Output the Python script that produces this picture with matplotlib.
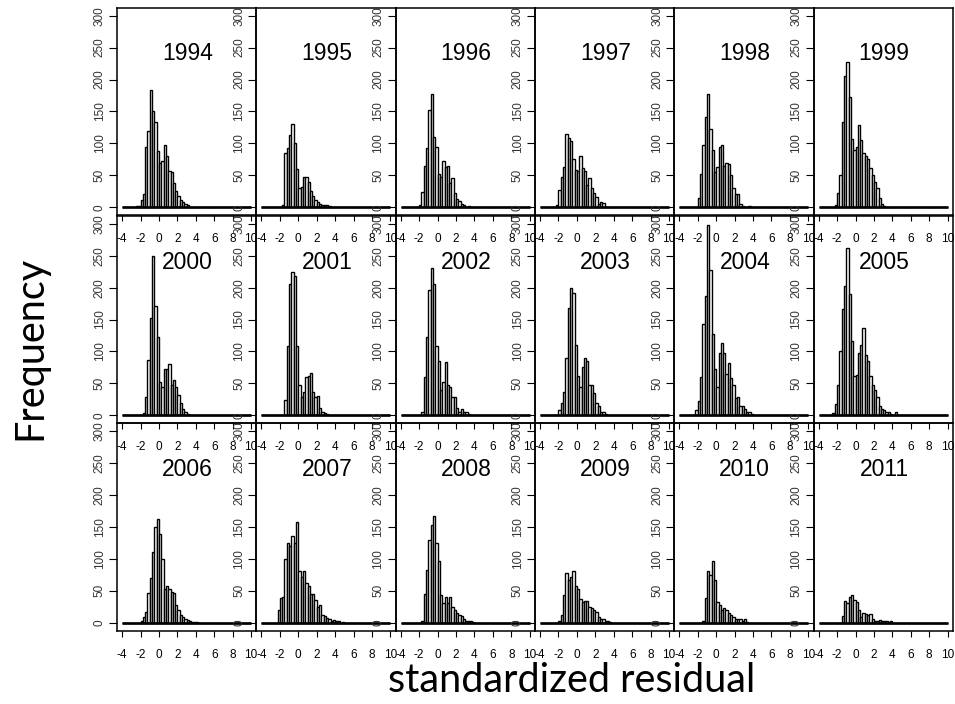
import numpy as np
import matplotlib
matplotlib.use("Agg")
import matplotlib.pyplot as plt

# histogram bins: 0.25 wide over -4..10, listed counts start at -2.5
BIN_WIDTH = 0.25
X_RANGE = (-4, 10)
FIRST_BIN = -2.5

years = [1994, 1995, 1996, 1997, 1998, 1999,
         2000, 2001, 2002, 2003, 2004, 2005,
         2006, 2007, 2008, 2009, 2010, 2011]

c1994 = [2, 2, 11, 20, 95, 120, 183, 150, 133, 88, 70, 73, 97, 80, 57, 55, 38, 25, 17, 12, 8, 5, 3, 1, 1, 1]
c1995 = [0, 0, 0, 3, 85, 93, 113, 130, 100, 60, 30, 32, 48, 48, 40, 25, 17, 12, 8, 5, 3, 4, 3, 2, 1, 1]
c1996 = [0, 0, 4, 24, 64, 93, 152, 178, 110, 95, 52, 48, 73, 63, 65, 38, 46, 22, 13, 9, 5, 3, 0, 2]
c1997 = [0, 4, 27, 48, 63, 115, 108, 103, 75, 58, 57, 81, 62, 57, 35, 45, 30, 22, 16, 5, 8, 6]
c1998 = [0, 0, 14, 52, 97, 142, 178, 123, 90, 55, 63, 95, 97, 65, 70, 68, 50, 30, 20, 20, 5, 2, 0, 0, 2]
c1999 = [0, 3, 22, 50, 133, 205, 228, 173, 107, 90, 95, 128, 105, 85, 80, 75, 62, 50, 40, 30, 15, 5, 2]
c2000 = [0, 0, 0, 4, 28, 87, 152, 250, 172, 122, 52, 45, 72, 72, 80, 48, 55, 45, 32, 20, 10, 5, 2, 1]
c2001 = [0, 0, 0, 0, 24, 108, 206, 224, 218, 108, 48, 28, 37, 60, 62, 67, 37, 28, 30, 12, 5, 3, 2, 1, 1]
c2002 = [0, 0, 0, 5, 60, 123, 196, 230, 205, 108, 85, 40, 52, 83, 48, 45, 28, 28, 12, 5, 10, 5, 5, 2]
c2003 = [0, 0, 8, 20, 37, 90, 168, 200, 192, 110, 62, 45, 75, 90, 85, 48, 48, 35, 20, 15, 5, 5, 2]
c2004 = [0, 8, 23, 60, 143, 187, 298, 228, 128, 72, 45, 97, 113, 97, 65, 82, 58, 48, 27, 28, 15, 15, 10, 5, 5, 2, 1]
c2005 = [3, 17, 47, 100, 167, 202, 262, 190, 117, 62, 63, 97, 110, 136, 95, 85, 62, 48, 40, 28, 15, 10, 8, 5, 5, 2, 0, 5]
c2006 = [0, 0, 3, 8, 17, 47, 70, 110, 150, 162, 138, 100, 53, 57, 53, 48, 47, 28, 20, 12, 8, 5, 4, 2, 1, 1, 1]
c2007 = [0, 20, 38, 40, 100, 125, 120, 135, 125, 158, 80, 72, 80, 62, 57, 45, 45, 35, 25, 27, 12, 10, 7, 5, 3, 4, 2, 2, 0, 1]
c2008 = [0, 0, 0, 3, 45, 83, 130, 152, 167, 125, 97, 43, 30, 40, 30, 40, 25, 20, 15, 12, 10, 5, 3, 2, 2, 1]
c2009 = [0, 0, 3, 12, 43, 78, 67, 72, 80, 57, 52, 37, 32, 33, 34, 25, 23, 20, 17, 8, 5, 5, 3, 2, 1]
c2010 = [0, 0, 0, 0, 3, 38, 80, 75, 97, 67, 32, 28, 20, 22, 20, 15, 12, 8, 6, 5, 5, 2, 5, 1]
c2011 = [0, 0, 0, 0, 10, 33, 30, 40, 43, 35, 32, 20, 8, 15, 13, 12, 13, 5, 2, 3, 4, 2, 2, 3, 1, 2]

counts = [c1994, c1995, c1996, c1997, c1998, c1999,
          c2000, c2001, c2002, c2003, c2004, c2005,
          c2006, c2007, c2008, c2009, c2010, c2011]

x_ticks = [-4, -2, 0, 2, 4, 6, 8, 10]
y_ticks = [0, 50, 100, 150, 200, 250, 300]

W, H = 955, 704
fig = plt.figure(figsize=(W / 100, H / 100), dpi=100)

edges = np.arange(X_RANGE[0], X_RANGE[1] + BIN_WIDTH / 2, BIN_WIDTH)
offset = int(round((FIRST_BIN - X_RANGE[0]) / BIN_WIDTH))

col_left = 117.0
col_w = 139.3
row_top = [7.7, 215.8, 423.0]
row_h = 207.5

for i, (yr, cnt) in enumerate(zip(years, counts)):
    r, c = divmod(i, 6)
    left = (col_left + c * col_w) / W
    bottom = 1 - (row_top[r] + row_h) / H
    ax = fig.add_axes([left, bottom, col_w / W, row_h / H])
    ax.patch.set_alpha(0)

    full = np.zeros(len(edges) - 1)
    full[offset:offset + len(cnt)] = cnt
    ax.bar(edges[:-1], full, width=BIN_WIDTH, align="edge",
           color="white", edgecolor="black", linewidth=1.0)
    ax.hlines(0, edges[0], edges[-1], color="black", lw=1.9)

    ax.set_xlim(-4.56, 10.56)
    ax.set_ylim(-12.5, 312.5)
    ax.set_xticks(x_ticks)
    ax.set_xticklabels([str(t) for t in x_ticks], family="Liberation Sans")
    ax.set_yticks(y_ticks)
    ax.set_yticklabels([str(t) for t in y_ticks], rotation=90, va="center",
                       family="Liberation Sans")
    ax.tick_params(axis="x", length=4.5, width=0.8, pad=8.5, labelsize=8.5)
    ax.tick_params(axis="y", length=6, width=0.8, pad=2, labelsize=8.5,
                   labelcolor="#333333")
    for s in ax.spines.values():
        s.set_linewidth(1.1)

    ax.text(3.1, 240, str(yr), ha="center", va="center", fontsize=16.5,
            family="Liberation Sans")

fig.text(30 / W, 1 - 348 / H, "Frequency", rotation=90, ha="center", va="center",
         fontsize=28.5, family="Lato")
fig.text(572 / W, 1 - 680 / H, "standardized residual", ha="center", va="center",
         fontsize=28.5, family="Lato")

fig.savefig("out.png", dpi=100)
